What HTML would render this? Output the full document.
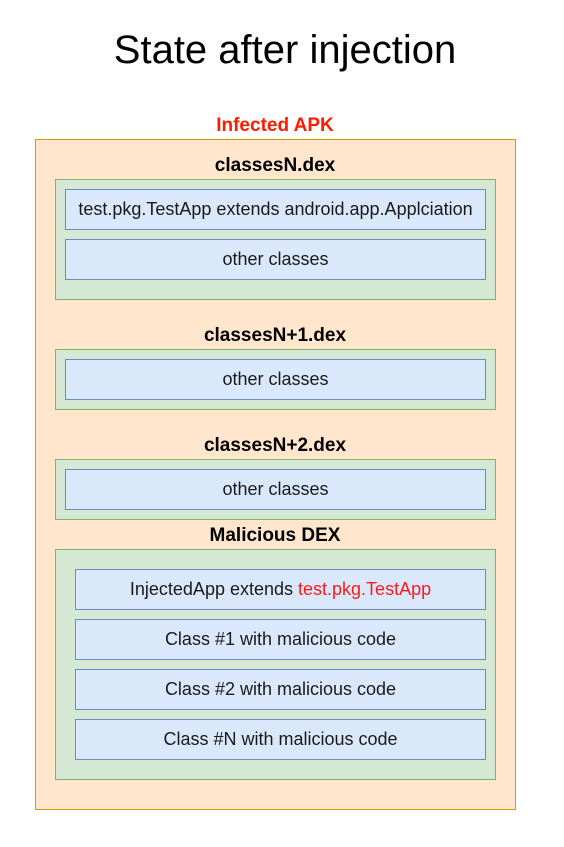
<!DOCTYPE html>
<html><head><style>
body{margin:0;width:564px;height:847px;background:#fff;position:relative;font-family:"Liberation Sans",sans-serif;overflow:hidden}
div{position:absolute;box-sizing:border-box}
.t{text-align:center;color:#000}
.o{background:#ffe6cc;border:1px solid #d79b00}
.g{background:#d5e8d4;border:1px solid #82b366}
.b{background:#dae8fc;border:1px solid #6c8ebf;display:flex;align-items:center;justify-content:center;font-size:18px;color:#1a1a1a;white-space:nowrap}
.l{font-weight:bold;font-size:19px;text-align:center;width:440px;left:55px}
</style></head><body>
<div class="t" style="left:0;width:570px;top:28px;font-size:40px">State after injection</div>
<div class="t" style="left:35px;width:480px;top:115px;font-size:19px;font-weight:bold;color:#ff1a00">Infected APK</div>
<div class="o" style="left:35px;top:139px;width:481px;height:671px"></div>

<div class="l" style="top:155px">classesN.dex</div>
<div class="g" style="left:55px;top:179px;width:441px;height:121px"></div>
<div class="b" style="left:65px;top:189px;width:421px;height:41px">test.pkg.TestApp extends android.app.Applciation</div>
<div class="b" style="left:65px;top:239px;width:421px;height:41px">other classes</div>

<div class="l" style="top:325px">classesN+1.dex</div>
<div class="g" style="left:55px;top:349px;width:441px;height:61px"></div>
<div class="b" style="left:65px;top:359px;width:421px;height:41px">other classes</div>

<div class="l" style="top:435px">classesN+2.dex</div>
<div class="g" style="left:55px;top:459px;width:441px;height:61px"></div>
<div class="b" style="left:65px;top:469px;width:421px;height:41px">other classes</div>

<div class="l" style="top:525px">Malicious DEX</div>
<div class="g" style="left:55px;top:549px;width:441px;height:231px"></div>
<div class="b" style="left:75px;top:569px;width:411px;height:41px">InjectedApp extends&nbsp;<span style="color:#ff1a1a">test.pkg.TestApp</span></div>
<div class="b" style="left:75px;top:619px;width:411px;height:41px">Class #1 with malicious code</div>
<div class="b" style="left:75px;top:669px;width:411px;height:41px">Class #2 with malicious code</div>
<div class="b" style="left:75px;top:719px;width:411px;height:41px">Class #N with malicious code</div>
</body></html>
